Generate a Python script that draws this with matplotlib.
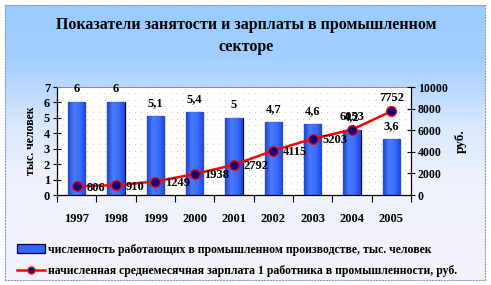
import matplotlib
matplotlib.use("Agg")
import matplotlib.pyplot as plt
import numpy as np
from matplotlib.colors import LinearSegmentedColormap
from matplotlib.patches import Patch
from matplotlib.lines import Line2D

# data
years = ["1997", "1998", "1999", "2000", "2001", "2002", "2003", "2004", "2005"]
workers = [6, 6, 5.1, 5.4, 5, 4.7, 4.6, 4.2, 3.6]          # тыс. человек
salary = [806, 910, 1249, 1938, 2792, 4115, 5203, 6053, 7752]  # руб.

title = "Показатели занятости и зарплаты в промышленном\nсекторе"
bar_label = "численность работающих в промышленном производстве, тыс. человек"
line_label = "начисленная среднемесячная зарплата 1 работника в промышленности, руб."

FONT = "Liberation Serif"
W, H = 491, 285

fig = plt.figure(figsize=(W / 100, H / 100), dpi=100)
fig.patch.set_facecolor("white")

# ---- background: blue at the top fading to pale, dotted border ----
bg = fig.add_axes([5 / W, 5 / H, 480 / W, 275 / H])
grad = np.linspace(0, 1, 256).reshape(-1, 1)
bg_cmap = LinearSegmentedColormap.from_list(
    "bg", [(0, "#99CCFF"), (0.2, "#A3CFFF"), (0.45, "#DCE9FF"), (0.65, "#EFF2FC"),
           (1, "#F3F3FB")])
bg.imshow(grad, aspect="auto", cmap=bg_cmap, extent=[0, 1, 0, 1])
bg.set_xlim(0, 1)
bg.set_ylim(0, 1)
bg.set_xticks([])
bg.set_yticks([])
for s in bg.spines.values():
    s.set_linestyle(":")
    s.set_color("#8899BB")
    s.set_linewidth(0.8)

fig.text(246 / W, 1 - 36 / H, title, ha="center", va="center",
         family=FONT, fontweight="bold", fontsize=11.5, linespacing=1.45)

# ---- main plot ----
ax = fig.add_axes([57 / W, 1 - 195 / H, 354 / W, 108 / H])
ax.set_facecolor("white")
x = np.arange(len(years))

# dotted grid pattern of the plot area
gx, gy = np.meshgrid(np.linspace(-0.5, 8.5, 60), np.linspace(0, 7, 18))
ax.scatter(gx.ravel(), gy.ravel(), s=0.4, color="#C8C8D0", zorder=0, linewidths=0)

bar_cmap = LinearSegmentedColormap.from_list(
    "bar", ["#1E45D8", "#4A7BFF", "#3A6CFF", "#1E45D8"])
bars = ax.bar(x, workers, width=0.44, color="#3366FF",
              edgecolor="#000033", linewidth=0.9, zorder=2)
hgrad = np.linspace(0, 1, 64).reshape(1, -1)
for b in bars:
    bx, by, bw, bh = b.get_x(), b.get_y(), b.get_width(), b.get_height()
    im = ax.imshow(hgrad, aspect="auto", cmap=bar_cmap,
                   extent=[bx, bx + bw, by, by + bh], zorder=2.1)
    im.set_clip_path(b)
ax.set_xlim(-0.5, len(years) - 0.5)
ax.set_ylim(0, 7)

for xi, v in zip(x, workers):
    ax.annotate(f"{v:g}".replace(".", ","), (xi, v), xytext=(0, 5),
                textcoords="offset points", ha="center", va="bottom",
                family=FONT, fontweight="bold", fontsize=9, zorder=5)

ax.set_xticks(x)
ax.set_xticklabels(years, family=FONT, fontweight="bold", fontsize=9)
ax.set_xticks(np.arange(-0.5, len(years)), minor=True)
ax.tick_params(axis="x", which="major", length=0, pad=13)
ax.tick_params(axis="x", which="minor", length=5, direction="out", width=0.8)
ax.set_yticks(range(8))
ax.set_yticklabels([str(i) for i in range(8)], family=FONT,
                   fontweight="bold", fontsize=9)
ax.tick_params(axis="y", direction="inout", length=6, width=0.8, pad=2)
ax.set_ylabel("тыс. человек", family=FONT, fontweight="bold", fontsize=8.5,
              labelpad=5)
for side in ("left", "bottom"):
    ax.spines[side].set_linewidth(0.9)
ax.spines["top"].set_color("#888888")
ax.spines["top"].set_linewidth(0.7)
ax.spines["right"].set_visible(False)

# ---- salary line on right axis ----
ax2 = ax.twinx()
ax2.set_ylim(0, 10000)
ax2.plot(x, salary, color="red", linewidth=1.8, marker="o", markersize=7,
         markerfacecolor="#000080", markeredgecolor="red",
         markeredgewidth=1.0, zorder=4)
for i, (xi, v) in enumerate(zip(x, salary)):
    if i >= len(salary) - 2:
        # last two labels sit above their points, as in the reference
        off, ha, va = (0, 5), "center", "bottom"
    else:
        off, ha, va = (7, -1), "left", "center"
    ax2.annotate(str(v), (xi, v), xytext=off, textcoords="offset points",
                 ha=ha, va=va, family=FONT, fontweight="bold", fontsize=9,
                 zorder=6)
ax2.set_yticks(range(0, 10001, 2000))
ax2.set_yticklabels([str(t) for t in range(0, 10001, 2000)], family=FONT,
                    fontweight="bold", fontsize=8.5)
ax2.tick_params(axis="y", direction="inout", length=6, width=0.8, pad=2)
ax2.set_ylabel("руб.", family=FONT, fontweight="bold", fontsize=9.5,
              labelpad=5)
ax2.spines["right"].set_linewidth(0.9)
for side in ("left", "top", "bottom"):
    ax2.spines[side].set_visible(False)

# ---- legend ----
handles = [
    Patch(facecolor="#3366FF", edgecolor="#000033", linewidth=0.9),
    Line2D([], [], color="red", linewidth=1.8, marker="o", markersize=5,
           markerfacecolor="#000080", markeredgecolor="red"),
]
fig.legend(handles, [bar_label, line_label], loc="upper left",
           bbox_to_anchor=(12 / W, 1 - 239 / H), frameon=False,
           prop={"family": FONT, "weight": "bold", "size": 8.5},
           handlelength=2.4, handletextpad=0.25, labelspacing=0.8,
           borderaxespad=0)

fig.savefig("out.png", dpi=100)
